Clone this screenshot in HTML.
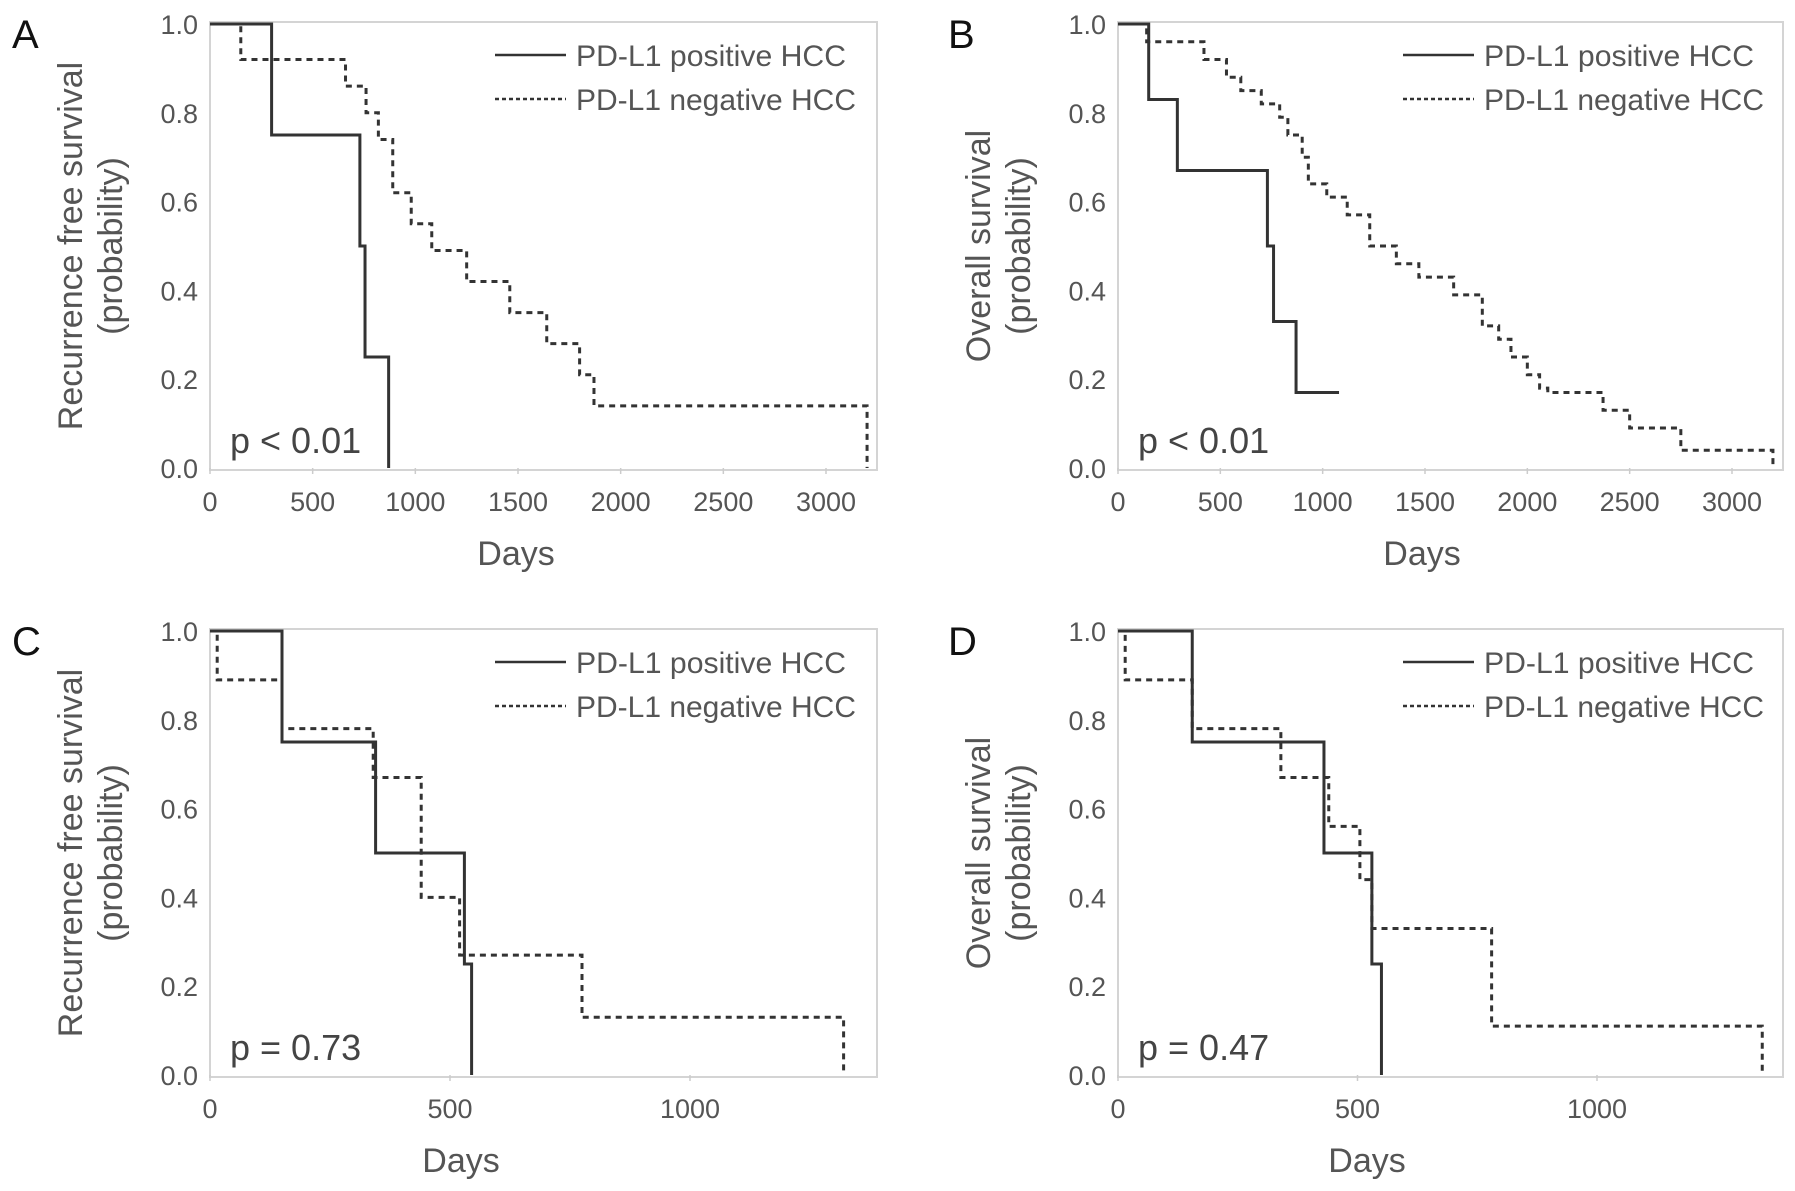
<!DOCTYPE html>
<html><head><meta charset="utf-8"><style>
html,body{margin:0;padding:0;background:#fff;}
svg{display:block;font-family:"Liberation Sans",sans-serif;}
</style></head><body>
<svg id="fig" width="1795" height="1191" viewBox="0 0 1795 1191"></svg>
<script>
// Panel A data
const aPosX=[0,300,730,755,870];
const aPosY=[1,0.75,0.5,0.25,0];
const aNegX=[0,150,660,760,820,890,980,1080,1250,1460,1640,1800,1870,3200];
const aNegY=[1,0.92,0.86,0.8,0.74,0.62,0.55,0.49,0.42,0.35,0.28,0.21,0.14,0];
// Panel B data
const bPosX=[0,150,290,730,760,870,1080];
const bPosY=[1,0.83,0.67,0.5,0.33,0.17,0.17];
const bNegX=[0,140,420,530,600,700,790,830,900,930,1020,1120,1230,1360,1470,1640,1780,1860,1920,2000,2060,2100,2370,2500,2750,3200];
const bNegY=[1,0.96,0.92,0.88,0.85,0.82,0.79,0.75,0.7,0.64,0.61,0.57,0.5,0.46,0.43,0.39,0.32,0.29,0.25,0.21,0.18,0.17,0.13,0.09,0.04,0];
// Panel C data
const cPosX=[0,150,345,530,545];
const cPosY=[1,0.75,0.5,0.25,0];
const cNegX=[0,15,150,340,440,520,775,1320];
const cNegY=[1,0.89,0.78,0.67,0.4,0.27,0.13,0];
// Panel D data
const dPosX=[0,155,430,530,550];
const dPosY=[1,0.75,0.5,0.25,0];
const dNegX=[0,15,155,340,440,505,530,780,1345];
const dNegY=[1,0.89,0.78,0.67,0.56,0.44,0.33,0.11,0];
const yTicks=[0,0.2,0.4,0.6,0.8,1.0];
const xTicksLong=[0,500,1000,1500,2000,2500,3000];
const xTicksShort=[0,500,1000];

const NS="http://www.w3.org/2000/svg";
const svg=document.getElementById('fig');
function mk(tag,attrs,parent,text){const e=document.createElementNS(NS,tag);for(const k in attrs)e.setAttribute(k,attrs[k]);if(text!==undefined)e.textContent=text;(parent||svg).appendChild(e);return e;}

function panel(o){
  const g=mk('g',{});
  
  
  const sx=v=>o.x0+v*o.ppd, sy=v=>o.yb-(o.yb-o.yt)*v;
  const fr=mk('rect',{x:o.x0,y:o.yt-2,width:o.xr-o.x0,height:o.yb-o.yt+4,fill:'none',stroke:'#d4d4d4','stroke-width':2},g);
  
  const lt=mk('text',{x:o.lx,y:o.yt+24,'font-size':40,fill:'#111'},g,o.letter);
  
  yTicks.forEach(t=>{const tx=mk('text',{x:o.x0-12,y:sy(t)+10,'font-size':27,fill:'#555','text-anchor':'end'},g,t.toFixed(1));
    });
  o.xt.forEach(t=>{const tx=mk('text',{x:sx(t),y:o.yb+43,'font-size':27,fill:'#555','text-anchor':'middle'},g,String(t));
    
    mk('line',{x1:sx(t),x2:sx(t),y1:o.yb,y2:o.yb+6,stroke:'#ccc','stroke-width':1.5},g);});
  const xl=mk('text',{x:o.dx,y:o.yb+97,'font-size':34,fill:'#555','text-anchor':'middle'},g,'Days');
  
  const cy=(o.yt+o.yb)/2;
  const t1=mk('text',{x:0,y:0,'font-size':34,fill:'#555','text-anchor':'middle',transform:`translate(${o.x0-128},${cy}) rotate(-90)`},g,o.title);
  
  const t2=mk('text',{x:0,y:0,'font-size':34,fill:'#555','text-anchor':'middle',transform:`translate(${o.x0-88},${cy}) rotate(-90)`},g,'(probability)');
  
  function step(X,Y,dash,name){
    let d=`M${sx(X[0])},${sy(Y[0])}`;
    for(let i=1;i<X.length;i++){d+=`H${sx(X[i])}V${sy(Y[i])}`;}
    const p=mk('path',{d:d,fill:'none',stroke:'#333','stroke-width':3,'stroke-dasharray':dash},g);
    
  }
  step(o.negX,o.negY,'6,5','negative-curve');
  step(o.posX,o.posY,'none','positive-curve');
  const pv=mk('text',{x:o.x0+20,y:o.yb-15,'font-size':36,fill:'#444'},g,o.p);
  
  const lx=o.x0+285;
  const l1=mk('g',{},g);
  mk('line',{x1:lx,x2:lx+71,y1:o.yt+31,y2:o.yt+31,stroke:'#333','stroke-width':2.5},l1);
  mk('text',{x:lx+81,y:o.yt+42,'font-size':30,fill:'#555',textLength:270,lengthAdjust:'spacingAndGlyphs'},l1,'PD-L1 positive HCC');
  const l2=mk('g',{},g);
  mk('line',{x1:lx,x2:lx+71,y1:o.yt+75,y2:o.yt+75,stroke:'#333','stroke-width':2.5,'stroke-dasharray':'4,3'},l2);
  mk('text',{x:lx+81,y:o.yt+86,'font-size':30,fill:'#555',textLength:280,lengthAdjust:'spacingAndGlyphs'},l2,'PD-L1 negative HCC');
}
panel({letter:'A',lx:12,x0:210,xr:877,yt:24,yb:468,ppd:616/3000,xt:xTicksLong,dx:516,title:'Recurrence free survival',p:'p < 0.01',posX:aPosX,posY:aPosY,negX:aNegX,negY:aNegY});
panel({letter:'B',lx:948,x0:1118,xr:1783,yt:24,yb:468,ppd:614/3000,xt:xTicksLong,dx:1422,title:'Overall survival',p:'p < 0.01',posX:bPosX,posY:bPosY,negX:bNegX,negY:bNegY});
panel({letter:'C',lx:12,x0:210,xr:877,yt:631,yb:1075,ppd:480/1000,xt:xTicksShort,dx:461,title:'Recurrence free survival',p:'p = 0.73',posX:cPosX,posY:cPosY,negX:cNegX,negY:cNegY});
panel({letter:'D',lx:948,x0:1118,xr:1783,yt:631,yb:1075,ppd:479/1000,xt:xTicksShort,dx:1367,title:'Overall survival',p:'p = 0.47',posX:dPosX,posY:dPosY,negX:dNegX,negY:dNegY});
</script>
</body></html>
